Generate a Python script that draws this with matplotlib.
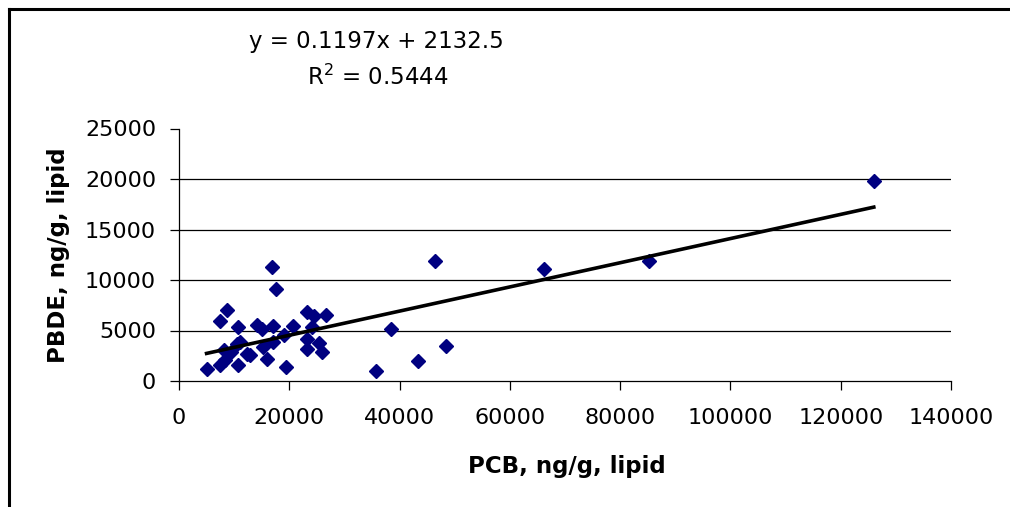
import numpy as np
import matplotlib
matplotlib.use("Agg")
import matplotlib.pyplot as plt
from matplotlib.lines import Line2D

# PCB vs PBDE, ng/g lipid
pcbValues = [
    5000, 7400, 7500, 8200, 8300, 8700, 9500, 10500, 10700, 10700,
    11100, 12300, 12900, 14200, 15000, 15300, 16000, 16800, 17100, 17100,
    17600, 19000, 19400, 20600, 23200, 23200, 23300, 24400, 24200, 25300,
    25900, 26700, 35700, 38400, 43400, 46400, 48400, 66200, 85300, 126000
]
pbdeValues = [
    1150, 1600, 5900, 3100, 2100, 7000, 2900, 3700, 1600, 5350,
    3900, 2700, 2600, 5550, 5100, 3400, 2150, 11300, 5400, 3900,
    9100, 4550, 1350, 5400, 6800, 4150, 3150, 6400, 5300, 3800,
    2900, 6550, 1000, 5100, 2000, 11900, 3500, 11100, 11900, 19800
]

trendSlope = 0.1197
trendIntercept = 2132.5
rSquared = 0.5444

xTicks = [0, 20000, 40000, 60000, 80000, 100000, 120000, 140000]
yTicks = [0, 5000, 10000, 15000, 20000, 25000]

figWidthPx = 1010
figHeightPx = 507


def figPos(xPx : float, yPx : float) -> tuple :
    return xPx / figWidthPx, 1 - yPx / figHeightPx


def plotChart() -> None :
    fig = plt.figure(figsize=(figWidthPx / 100, figHeightPx / 100), dpi=100)
    fig.patch.set_facecolor("white")

    left, top = figPos(179, 128.5)
    right, bottom = figPos(951, 381)
    ax = fig.add_axes([left, bottom, right - left, top - bottom])

    # gridlines only between the end ticks, as in the source
    for yValue in yTicks[1:-1] :
        ax.axhline(yValue, color="black", linewidth=0.9, zorder=1)

    ax.plot(
        pcbValues, pbdeValues,
        linestyle="none", marker="D", markersize=7.4,
        color="#000080", zorder=3
    )

    xLine = np.array([min(pcbValues), max(pcbValues)])
    ax.plot(xLine, trendSlope * xLine + trendIntercept,
            color="black", linewidth=2.6, zorder=4)

    ax.set_xlim(xTicks[0], xTicks[-1])
    ax.set_ylim(yTicks[0], yTicks[-1])
    ax.set_xticks(xTicks)
    ax.set_yticks(yTicks)
    ax.set_xticklabels([str(t) for t in xTicks])
    ax.set_yticklabels([str(t) for t in yTicks])

    for side in ["top", "right"] :
        ax.spines[side].set_visible(False)
    for side in ["left", "bottom"] :
        ax.spines[side].set_linewidth(0.9)

    ax.tick_params(axis="both", direction="out", length=6.5, width=0.9,
                   labelsize=16, colors="black")
    ax.tick_params(axis="y", pad=10)
    ax.tick_params(axis="x", pad=13)

    eqX, eqY = figPos(376, 48)
    fig.text(eqX, eqY, f"y = {trendSlope}x + {trendIntercept}",
             ha="center", va="baseline", fontsize=16.5)
    rX, rY = figPos(377.5, 85)
    fig.text(rX, rY, f"R$^2$ = {rSquared}",
             ha="center", va="baseline", fontsize=16.5)

    xlX, xlY = figPos(566.5, 473)
    fig.text(xlX, xlY, "PCB, ng/g, lipid", ha="center", va="baseline",
             fontsize=16.5, fontweight="bold")
    ylX, ylY = figPos(65, 255)
    fig.text(ylX, ylY, "PBDE, ng/g, lipid", ha="center", va="baseline",
             rotation=90, rotation_mode="anchor", fontsize=16.5,
             fontweight="bold")

    # chart-area border, only left and top edges are inside the crop
    bx, by = figPos(9, 9)
    fig.add_artist(Line2D([bx, bx], [0, by], transform=fig.transFigure,
                          color="black", linewidth=2.2))
    fig.add_artist(Line2D([bx, 1], [by, by], transform=fig.transFigure,
                          color="black", linewidth=2.2))

    fig.savefig("out.png", dpi=100)


def main() -> None :
    plotChart()


if __name__ == "__main__" :
    main()
